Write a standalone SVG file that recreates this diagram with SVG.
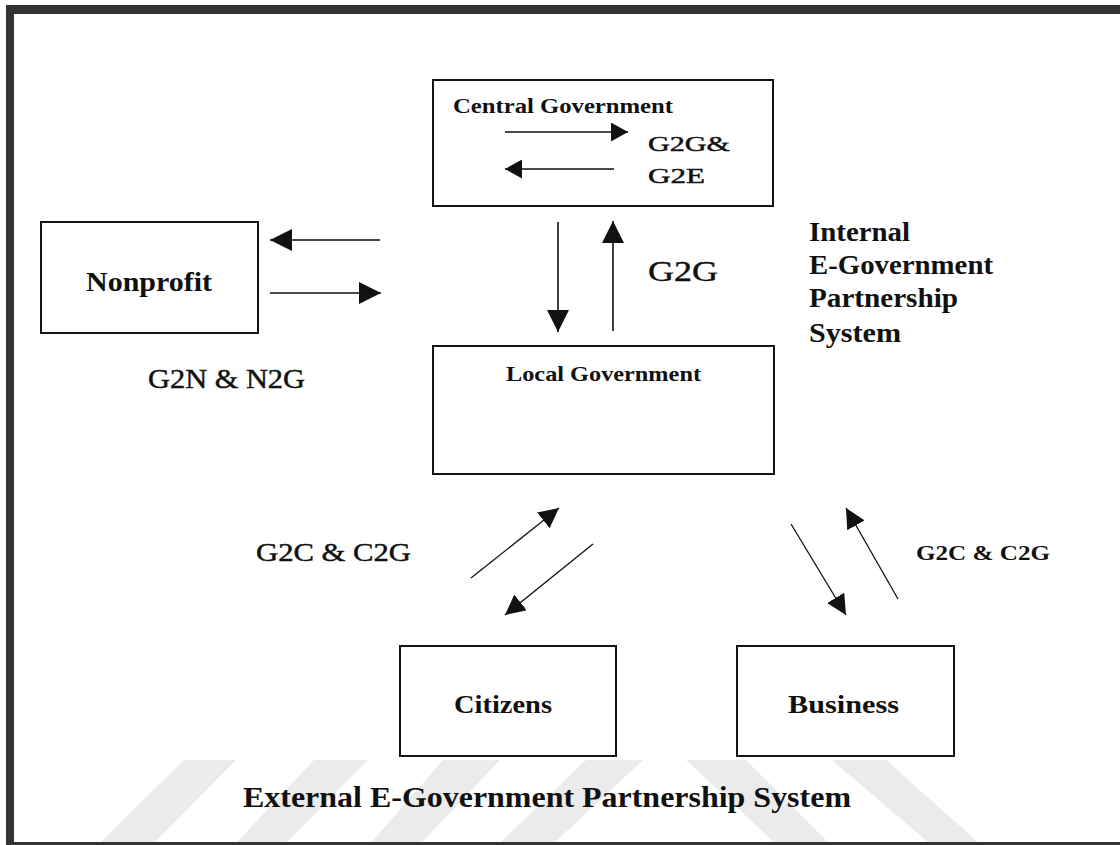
<svg xmlns="http://www.w3.org/2000/svg" width="1120" height="845" viewBox="0 0 1120 845">
  <style>
    .box { fill: #ffffff; stroke: #141414; stroke-width: 2; }
    .link { stroke: #111111; stroke-width: 1.6; fill: none; }
    .thin { stroke: #111111; stroke-width: 1.3; fill: none; }
    .t { font-family: "Liberation Serif", "Times New Roman", serif; fill: #111111; }
    .r { stroke: #111111; stroke-width: 0.45; }
    .b { font-weight: bold; }
    .wm { fill: #ebebeb; }
    .frame { fill: #333333; }
  </style>
  <defs>
    <marker id="head-lg" viewBox="0 0 10 10" refX="10" refY="5" markerWidth="22" markerHeight="22" markerUnits="userSpaceOnUse" orient="auto">
      <path d="M0,0 L10,5 L0,10 Z" fill="#111111"/>
    </marker>
    <marker id="head-sm" viewBox="0 0 10 10" refX="10" refY="5" markerWidth="17" markerHeight="19" markerUnits="userSpaceOnUse" orient="auto" preserveAspectRatio="none">
      <path d="M0,0 L10,5 L0,10 Z" fill="#111111"/>
    </marker>
    <marker id="head-dg" viewBox="0 0 10 10" refX="10" refY="5" markerWidth="20" markerHeight="20" markerUnits="userSpaceOnUse" orient="auto" preserveAspectRatio="none">
      <path d="M0,0 L10,5 L0,10 Z" fill="#111111"/>
    </marker>
  </defs>

  <rect x="0" y="0" width="1120" height="845" fill="#ffffff"/>

  <!-- faint background stripes along the bottom edge -->
  <g id="stripes">
    <polygon class="wm" points="184,760 236,760 154,843 100,843"/>
    <polygon class="wm" points="314,760 368,760 286,843 236,843"/>
    <polygon class="wm" points="443,760 500,760 421,843 371,843"/>
    <polygon class="wm" points="586,760 643,760 554,843 500,843"/>
    <polygon class="wm" points="686,760 746,760 829,843 775,843"/>
    <polygon class="wm" points="832,760 886,760 979,843 929,843"/>
  </g>

  <!-- outer frame -->
  <g id="frame">
    <rect class="frame" x="6" y="5" width="1114" height="9"/>
    <rect class="frame" x="6" y="5" width="8" height="840"/>
    <rect class="frame" x="6" y="842" width="1114" height="3"/>
  </g>

  <g id="central-government">
    <rect class="box" x="433" y="80" width="340" height="126"/>
    <text class="t b" x="453" y="113" font-size="20" textLength="220" lengthAdjust="spacingAndGlyphs">Central Government</text>
    <text class="t r" x="648" y="151" font-size="21" textLength="82" lengthAdjust="spacingAndGlyphs">G2G&amp;</text>
    <text class="t r" x="648" y="183" font-size="21" textLength="57" lengthAdjust="spacingAndGlyphs">G2E</text>
  </g>

  <g id="nonprofit">
    <rect class="box" x="41" y="222" width="217" height="111"/>
    <text class="t b" x="86" y="291" font-size="27" textLength="126" lengthAdjust="spacingAndGlyphs">Nonprofit</text>
  </g>

  <g id="local-government">
    <rect class="box" x="433" y="346" width="341" height="128"/>
    <text class="t b" x="506" y="381" font-size="21" textLength="195" lengthAdjust="spacingAndGlyphs">Local Government</text>
  </g>

  <g id="citizens">
    <rect class="box" x="400" y="646" width="216" height="110"/>
    <text class="t b" x="454" y="713" font-size="25" textLength="98" lengthAdjust="spacingAndGlyphs">Citizens</text>
  </g>

  <g id="business">
    <rect class="box" x="737" y="646" width="217" height="110"/>
    <text class="t b" x="788" y="713" font-size="25" textLength="111" lengthAdjust="spacingAndGlyphs">Business</text>
  </g>

  <g id="connectors">
    <!-- exchanges drawn inside the central government box -->
    <line class="link" x1="505" y1="132" x2="628" y2="132" marker-end="url(#head-sm)"/>
    <line class="link" x1="614" y1="169" x2="505" y2="169" marker-end="url(#head-sm)"/>
    <!-- nonprofit exchange -->
    <line class="link" x1="380" y1="240" x2="270" y2="240" marker-end="url(#head-lg)"/>
    <line class="link" x1="270" y1="293" x2="381" y2="293" marker-end="url(#head-lg)"/>
    <!-- central <-> local -->
    <line class="link" x1="558" y1="222" x2="558" y2="332" marker-end="url(#head-lg)"/>
    <line class="link" x1="613" y1="331" x2="613" y2="221" marker-end="url(#head-lg)"/>
    <!-- local <-> citizens -->
    <line class="thin" x1="471" y1="578" x2="559" y2="508" marker-end="url(#head-dg)"/>
    <line class="thin" x1="593" y1="544" x2="505" y2="615" marker-end="url(#head-dg)"/>
    <!-- local <-> business -->
    <line class="thin" x1="791" y1="524" x2="846" y2="615" marker-end="url(#head-dg)"/>
    <line class="thin" x1="898" y1="599" x2="846" y2="508" marker-end="url(#head-dg)"/>
  </g>

  <g id="labels">
    <text class="t r" x="148" y="388" font-size="28" textLength="157" lengthAdjust="spacingAndGlyphs">G2N &amp; N2G</text>
    <text class="t r" x="648" y="281" font-size="30" textLength="70" lengthAdjust="spacingAndGlyphs">G2G</text>
    <text class="t b" x="809" y="241" font-size="27" textLength="101" lengthAdjust="spacingAndGlyphs">Internal</text>
    <text class="t b" x="809" y="274" font-size="27" textLength="184" lengthAdjust="spacingAndGlyphs">E-Government</text>
    <text class="t b" x="809" y="307" font-size="27" textLength="149" lengthAdjust="spacingAndGlyphs">Partnership</text>
    <text class="t b" x="809" y="342" font-size="27" textLength="92" lengthAdjust="spacingAndGlyphs">System</text>
    <text class="t r" x="256" y="561" font-size="25" textLength="155" lengthAdjust="spacingAndGlyphs">G2C &amp; C2G</text>
    <text class="t b" x="916" y="560" font-size="21" textLength="134" lengthAdjust="spacingAndGlyphs">G2C &amp; C2G</text>
    <text class="t b" x="243" y="807" font-size="30" textLength="608" lengthAdjust="spacingAndGlyphs">External E-Government Partnership System</text>
  </g>
</svg>
